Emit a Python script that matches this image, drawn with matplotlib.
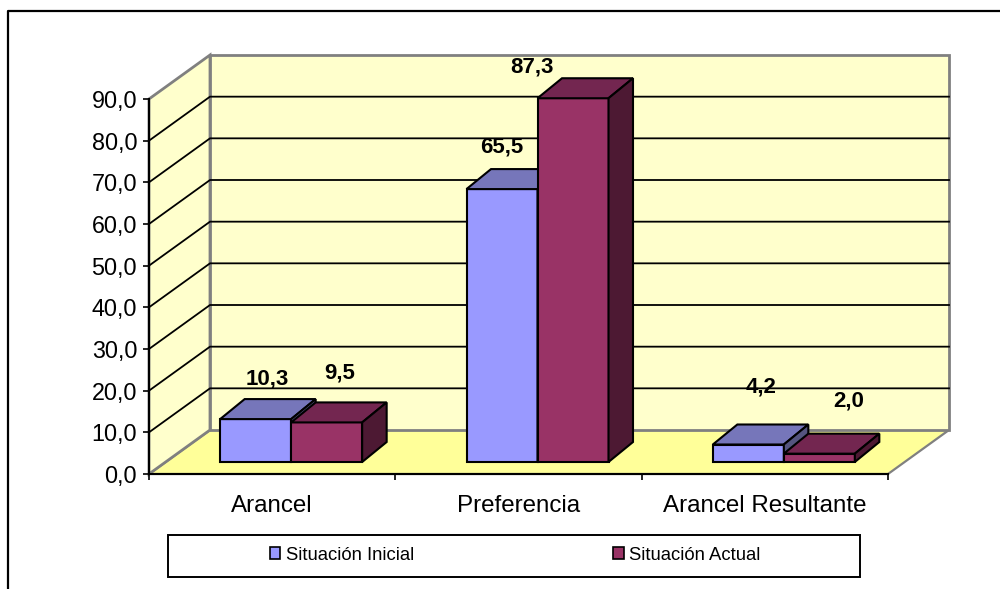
import matplotlib
matplotlib.use("Agg")
import matplotlib.pyplot as plt
from matplotlib.patches import Polygon, Rectangle
from matplotlib.lines import Line2D

plt.rcParams["font.family"] = ["Liberation Sans", "DejaVu Sans"]

categories = ["Arancel", "Preferencia", "Arancel Resultante"]
series_names = ["Situación Inicial", "Situación Actual"]
inicial = [10.3, 65.5, 4.2]
actual = [9.5, 87.3, 2.0]
y_ticks = [0, 10, 20, 30, 40, 50, 60, 70, 80, 90]

# label offsets from the top middle of each bar front, in pixels
offsets_inicial = [(12, 40), (0, 42), (13, 57)]
offsets_actual = [(13, 49), (-41, 31), (29, 53)]

BLUE = ("#9999FF", "#7676BA", "#55557F")
RED = ("#993366", "#732650", "#4D1933")

fig = plt.figure(figsize=(10, 5.89), dpi=100)
ax = fig.add_axes([149 / 1000, 115 / 589, 739 / 1000, 375 / 589])
ax.set_xlim(0, 3)
ax.set_ylim(0, 90)

# one pixel in data units
px = 3 / 739
py = 90 / 375
wall_dx, wall_dy = 61 * px, 44 * py
bar_x0, bar_y0 = 19 * px, 12 * py
depth_dx, depth_dy = 24.5 * px, 20 * py
bar_w = 71 * px


def poly(points, face, edge, lw, z):
    ax.add_patch(Polygon(points, closed=True, facecolor=face, edgecolor=edge,
                         linewidth=lw, zorder=z, clip_on=False, joinstyle="miter"))


# walls and floor
poly([(0, 0), (wall_dx, wall_dy), (3 + wall_dx, wall_dy), (3, 0)], "#FFFF99", "#808080", 1.6, 1)
poly([(0, 0), (wall_dx, wall_dy), (wall_dx, 90 + wall_dy), (0, 90)], "#FFFFCC", "#808080", 2, 1)
poly([(wall_dx, wall_dy), (3 + wall_dx, wall_dy), (3 + wall_dx, 90 + wall_dy), (wall_dx, 90 + wall_dy)],
     "#FFFFCC", "#808080", 2, 1)

# gridlines
for t in y_ticks[1:-1]:
    ax.plot([0, wall_dx, 3 + wall_dx], [t, t + wall_dy, t + wall_dy],
            color="black", lw=1.3, zorder=2, clip_on=False)


def bar3d(x, h, colors, z):
    y = bar_y0
    top = y + h
    poly([(x, y), (x + bar_w, y), (x + bar_w, top), (x, top)], colors[0], "black", 1.5, z)
    poly([(x, top), (x + bar_w, top), (x + bar_w + depth_dx, top + depth_dy), (x + depth_dx, top + depth_dy)],
         colors[1], "black", 1.5, z)
    poly([(x + bar_w, y), (x + bar_w + depth_dx, y + depth_dy), (x + bar_w + depth_dx, top + depth_dy),
          (x + bar_w, top)], colors[2], "black", 1.5, z)


for i in range(3):
    centre = i + 0.5 + bar_x0
    bar3d(centre - bar_w, inicial[i], BLUE, 3)
    bar3d(centre, actual[i], RED, 4)
    ax.annotate(f"{inicial[i]:.1f}".replace(".", ","),
                (centre - bar_w / 2, bar_y0 + inicial[i]), xytext=offsets_inicial[i],
                textcoords="offset pixels", ha="center", va="center",
                fontsize=16, fontweight="bold", zorder=6, annotation_clip=False)
    ax.annotate(f"{actual[i]:.1f}".replace(".", ","),
                (centre + bar_w / 2, bar_y0 + actual[i]), xytext=offsets_actual[i],
                textcoords="offset pixels", ha="center", va="center",
                fontsize=16, fontweight="bold", zorder=6, annotation_clip=False)

# axes
ax.patch.set_visible(False)
for side in ["top", "right"]:
    ax.spines[side].set_visible(False)
for side in ["left", "bottom"]:
    ax.spines[side].set_linewidth(1.5)
    ax.spines[side].set_zorder(5)
ax.set_yticks(y_ticks)
ax.set_yticklabels([f"{t:.1f}".replace(".", ",") for t in y_ticks], fontsize=16.8)
ax.set_xticks([0, 1, 2, 3])
ax.set_xticklabels([])
ax.set_xticks([0.5, 1.5, 2.5], minor=True)
ax.set_xticklabels(categories, minor=True, fontsize=17.4)
ax.tick_params(axis="x", which="minor", length=0, pad=15)
ax.tick_params(axis="x", which="major", length=4.5, width=1.2, direction="out")
ax.tick_params(axis="y", length=4.5, width=1.2, direction="out", pad=4)

# outer frame and legend box, in figure pixels
fig.add_artist(Line2D([8 / 1000, 8 / 1000, 1], [0, 1 - 11 / 589, 1 - 11 / 589], color="black", lw=1.6))
fig.add_artist(Rectangle((168 / 1000, 1 - 577 / 589), 692 / 1000, 42 / 589, facecolor="white",
                         edgecolor="black", lw=1.4, transform=fig.transFigure))

handles = [Rectangle((0, 0), 1, 1, facecolor=BLUE[0], edgecolor="black", lw=1.2),
           Rectangle((0, 0), 1, 1, facecolor=RED[0], edgecolor="black", lw=1.2)]
leg = fig.legend(handles, series_names, ncol=2, frameon=False, fontsize=13.3,
                 loc="center left", bbox_to_anchor=(270 / 1000, 1 - 555 / 589),
                 handlelength=0.55, handleheight=0.55, handletextpad=0.3,
                 columnspacing=10.8, borderpad=0, borderaxespad=0)

fig.savefig("out.png", dpi=100)
